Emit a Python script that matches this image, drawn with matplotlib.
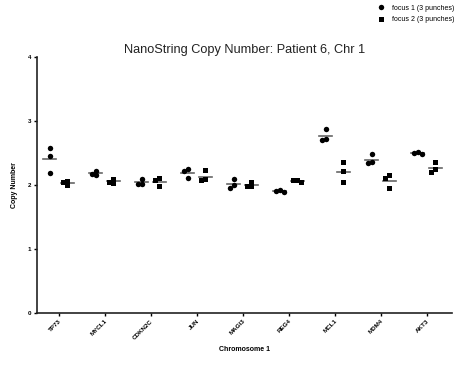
import numpy as np
import matplotlib
matplotlib.use("Agg")
import matplotlib.pyplot as plt

plt.rcParams['font.family'] = ['Liberation Sans', 'DejaVu Sans']

genes = ["TP73", "MYCL1", "CDKN2C", "JUN", "MAGI3", "REG4", "MCL1", "MDM4", "AKT3"]

# three punches per focus, per gene
focus1 = [
    [2.58, 2.45, 2.19],
    [2.22, 2.16, 2.17],
    [2.09, 2.01, 2.01],
    [2.24, 2.22, 2.11],
    [2.09, 2.00, 1.95],
    [1.92, 1.90, 1.89],
    [2.87, 2.70, 2.72],
    [2.48, 2.34, 2.36],
    [2.52, 2.48, 2.50],
]
focus2 = [
    [1.99, 2.06, 2.05],
    [2.09, 2.03, 2.05],
    [2.10, 2.07, 1.98],
    [2.23, 2.07, 2.09],
    [2.05, 1.98, 1.98],
    [2.07, 2.05, 2.07],
    [2.36, 2.22, 2.04],
    [2.15, 2.10, 1.95],
    [2.35, 2.25, 2.20],
]
# label, marker, size, data, side shift
series = [("focus 1 (3 punches)", "o", 3.9, focus1, -0.19),
          ("focus 2 (3 punches)", "s", 3.6, focus2, 0.19)]


def spread(vals, d=0.09, gap=0.06):
    # push overlapping points sideways, like a column scatter
    order = np.argsort(vals)[::-1]
    placed = []
    offs = np.zeros(len(vals))
    for i in order:
        for o in (0, -d, d, -2 * d, 2 * d):
            if all(abs(vals[i] - v) > gap or abs(o - po) > d * 0.9 for v, po in placed):
                offs[i] = o
                break
        placed.append((vals[i], offs[i]))
    return offs


fig = plt.figure(figsize=(4.62, 3.66), dpi=100)
ax = fig.add_axes([0.080, 0.145, 0.898, 0.70])

x = np.arange(len(genes))
for label, mk, ms, data, shift in series:
    for i, vals in enumerate(data):
        vals = np.array(vals)
        xs = x[i] + shift + spread(vals)
        ax.plot(xs, vals, mk, color="black", ms=ms, mew=0, ls="none",
                label=label if i == 0 else None)
        m = vals.mean()
        ax.plot([x[i] + shift - 0.14, x[i] + shift + 0.14], [m, m],
                color="#666666", lw=1.2, zorder=1)

ax.set_xlim(-0.47, 8.55)
ax.set_ylim(0, 4)
ax.set_yticks([0, 1, 2, 3, 4])
ax.set_xticks(x)
ax.set_xticklabels(genes, rotation=45, ha="right", rotation_mode="anchor",
                   fontsize=4.5, fontweight="bold")
for t in ax.get_yticklabels():
    t.set_fontsize(4.5)
    t.set_fontweight("bold")
for s in ("top", "right"):
    ax.spines[s].set_visible(False)
for s in ("left", "bottom"):
    ax.spines[s].set_linewidth(1.2)
    ax.spines[s].set_color("#222222")
ax.tick_params(axis="both", length=2.5, width=1, pad=1.5)

ax.set_title("NanoString Copy Number: Patient 6, Chr 1", fontsize=9.2, pad=3,
             color="#222222")
ax.set_ylabel("Copy Number", fontsize=5, fontweight="bold", labelpad=7)
ax.set_xlabel("Chromosome 1", fontsize=5, fontweight="bold", labelpad=4)

fig.legend(loc="upper right", bbox_to_anchor=(0.995, 1.0), frameon=False,
           fontsize=5, handletextpad=0.6, labelspacing=0.6, markerscale=1.0,
           borderaxespad=0.3)

fig.savefig("out.png", dpi=100)
